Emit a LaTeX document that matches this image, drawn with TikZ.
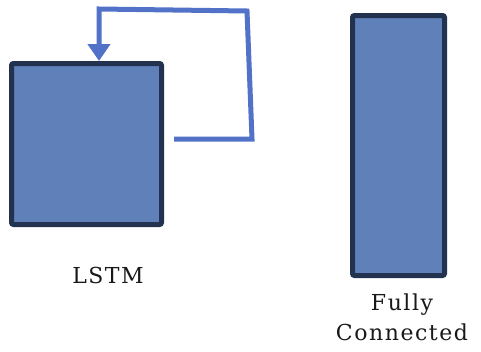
\documentclass[tikz,border=0pt]{standalone}
\usepackage{fontspec}
\setmainfont{DejaVu Serif}
\usetikzlibrary{arrows.meta}

\begin{document}
\begin{tikzpicture}[x=1pt, y=-1pt,
    layerbox/.style={draw=boxline, fill=boxfill, line width=5pt, rounded corners=2pt, inner sep=0pt},
    feedback/.style={draw=loopblue, line width=5pt, line join=miter},
    caption/.style={font=\fontsize{22}{30}\selectfont\addfontfeatures{LetterSpace=7}, text=black!90, align=center}]
    % Define colors for the boxes and the loop
        \definecolor{boxfill}{RGB}{95, 128, 184}   % muted blue fill
        \definecolor{boxline}{RGB}{35, 50, 78}     % dark navy border
        \definecolor{loopblue}{RGB}{82, 114, 200}  % lighter blue for the recurrent line

        \useasboundingbox (0,0) rectangle (481,351);

        % Draw the LSTM box
        \node[layerbox, minimum width=150pt, minimum height=161pt] (lstm) at (86.5,144) {};

        % Draw the tall "Fully Connected" box
        \node[layerbox, minimum width=92pt, minimum height=260pt] (fc) at (398.5,145.5) {};

        % Corners of the recurrent loop
        \coordinate (out) at (174,139);
        \coordinate (loopbr) at (252,139);
        \coordinate (looptr) at (247,11);
        \coordinate (looptl) at (99,9);

        % Draw the loop feeding the output back into the LSTM
        \draw[feedback, -{Triangle[width=22pt, length=17pt]}] (out) -- (loopbr) -- (looptr) -- (looptl) -- (lstm.north -| looptl);

        % Add labels below the boxes
        \node[caption] (lstmlabel) at (108,275) {LSTM};
        \node[caption] (fclabel) at (402,317) {Fully\\Connected};

    \end{tikzpicture}
\end{document}
